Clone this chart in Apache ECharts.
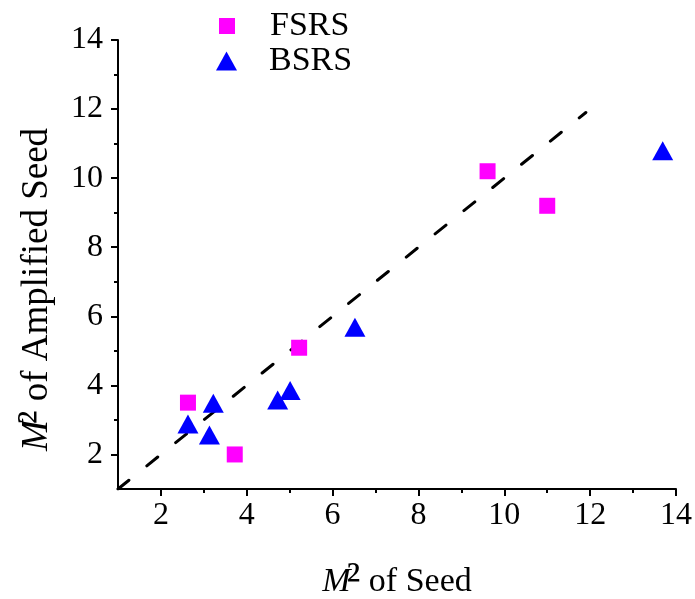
<!DOCTYPE html>
<html>
<head>
<meta charset="utf-8">
<script src="https://cdn.jsdelivr.net/npm/echarts@6/dist/echarts.min.js"></script>
<style>
  html, body { margin: 0; padding: 0; background: #fff; }
  #main { width: 695px; height: 599px; }
</style>
</head>
<body>
<div id="main"></div>
<script>
// 数据
const fsrsX = [2.63, 3.72, 5.22, 9.61, 11.0]
const fsrsY = [3.5, 2.0, 5.09, 10.2, 9.2]
const bsrsX = [2.63, 3.13, 3.22, 4.72, 5.01, 6.52, 13.69]
const bsrsY = [2.88, 2.56, 3.48, 3.58, 3.85, 5.68, 10.79]
// 参考线 y = x
const refX = [1, 11.9]
const refY = [1, 11.9]
// 刻度
const majorTicks = [2, 4, 6, 8, 10, 12, 14]
const minorTicks = [3, 5, 7, 9, 11, 13]

const FONT = '"Liberation Serif", "Times New Roman", serif'

const zip = (xs, ys) => xs.map((x, i) => [x, ys[i]])

const chart = echarts.init(document.getElementById('main'))

const gridBox = { left: 118, right: 19, top: 40, bottom: 110, containLabel: false, outerBoundsMode: 'none' }

// 上标 M² 的富文本（用 ² 字符，放大字号）
const makeRich = (size) => ({
  i: { fontFamily: FONT, fontStyle: 'italic', fontSize: size, lineHeight: size, color: '#000' },
  s: { fontFamily: FONT, fontSize: 46, lineHeight: 46, color: '#000', padding: [0, 0, 0, -4] },
  t: { fontFamily: FONT, fontSize: size, lineHeight: size, color: '#000' }
})

const mainAxis = (extra) => Object.assign({
  type: 'value',
  min: 1,
  max: 14,
  splitLine: { show: false },
  axisLine: { show: true, onZero: false, lineStyle: { color: '#000', width: 2 } },
  axisTick: { show: true, length: 7, customValues: majorTicks, lineStyle: { color: '#000', width: 2 } },
  nameLocation: 'middle'
}, extra)

// 次刻度轴（第二个 grid 与主 grid 重合）
const minorAxis = (extra) => Object.assign({
  type: 'value',
  gridIndex: 1,
  min: 1,
  max: 14,
  splitLine: { show: false },
  axisLine: { show: false, onZero: false },
  axisTick: { show: true, length: 4, customValues: minorTicks, lineStyle: { color: '#000', width: 2 } },
  axisLabel: { show: false }
}, extra)

const option = {
  backgroundColor: '#fff',
  animation: false,
  grid: [gridBox, Object.assign({}, gridBox)],
  legend: [
    {
      data: ['FSRS'],
      orient: 'vertical',
      left: 214,
      top: 4,
      itemWidth: 16,
      itemHeight: 16,
      textStyle: { fontFamily: FONT, fontSize: 34, color: '#000', padding: [0, 0, 0, 30] }
    },
    {
      data: ['BSRS'],
      orient: 'vertical',
      left: 211,
      top: 39,
      itemWidth: 21,
      itemHeight: 19,
      textStyle: { fontFamily: FONT, fontSize: 34, color: '#000', padding: [0, 0, 0, 27] }
    }
  ],
  xAxis: [
    mainAxis({
      position: 'bottom',
      name: '{i|M}{s|²}{t| of Seed}',
      nameGap: 70,
      nameTextStyle: { fontFamily: FONT, fontSize: 34, color: '#000', rich: makeRich(34) },
      axisLabel: { customValues: majorTicks, fontFamily: FONT, fontSize: 32, color: '#000', margin: 11 }
    }),
    minorAxis({ position: 'bottom' })
  ],
  yAxis: [
    mainAxis({
      position: 'left',
      name: '{i|M}{s|²}{t| of Amplified Seed}',
      nameGap: 58,
      nameTextStyle: { fontFamily: FONT, fontSize: 37, color: '#000', rich: makeRich(37), padding: [0, 50, 0, 0] },
      axisLabel: { customValues: majorTicks, fontFamily: FONT, fontSize: 32, color: '#000', margin: 15 }
    }),
    minorAxis({ position: 'left' })
  ],
  series: [
    {
      name: 'ref',
      type: 'line',
      data: zip(refX, refY),
      symbol: 'none',
      silent: true,
      lineStyle: { color: '#000', width: 3, type: [14, 23], cap: 'round' },
      z: 1
    },
    {
      name: 'FSRS',
      type: 'scatter',
      data: zip(fsrsX, fsrsY),
      symbol: 'rect',
      symbolSize: 16,
      itemStyle: { color: '#FF00FF', opacity: 1 },
      z: 3
    },
    {
      name: 'BSRS',
      type: 'scatter',
      data: zip(bsrsX, bsrsY),
      symbol: 'triangle',
      symbolSize: [21, 19],
      itemStyle: { color: '#0000FF', opacity: 1 },
      z: 3
    }
  ]
}

chart.setOption(option)
</script>
</body>
</html>
